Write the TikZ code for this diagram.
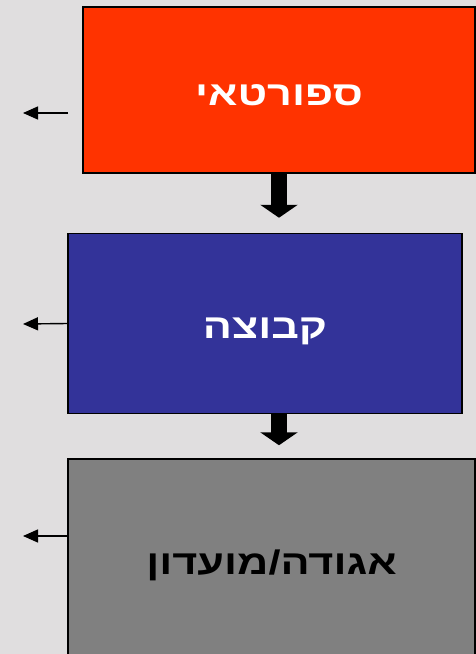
\documentclass[tikz,border=0pt]{standalone}
\usepackage{fontspec}
\setmainfont{Liberation Sans}
\newfontfamily\hebfont[Script=Hebrew, FakeStretch=1.27]{Liberation Sans}
\TeXXeTstate=1
\usetikzlibrary{arrows.meta, positioning, calc}
\definecolor{bggray}{RGB}{224,222,223}
\definecolor{sportred}{RGB}{255,51,0}
\definecolor{teamblue}{RGB}{51,51,153}
\definecolor{clubgray}{RGB}{128,128,128}
\tikzstyle{level} = [rectangle, draw=black, line width=1.5pt, text centered, text height=30pt, text depth=0pt, font=\hebfont\bfseries\fontsize{34}{40}\selectfont]
\tikzstyle{bigarrow} = [line width=16pt, -{Triangle[length=13pt,width=37pt]}]
\tikzstyle{sidearrow} = [line width=1.4pt, -{Triangle[length=15pt,width=13pt]}]

\begin{document}
\begin{tikzpicture}[x=1pt,y=-1pt]
\fill[bggray] (0,0) rectangle (476,654);
\useasboundingbox (0,0) rectangle (476,654);

\node (sport) [level, fill=sportred, text=white, minimum width=392pt, minimum height=166pt] at (279,90) {\beginR ספורטאי\endR};
\node (team) [level, fill=teamblue, text=white, minimum width=394pt, minimum height=180pt, below=59pt of sport, xshift=-14pt] {\beginR קבוצה\endR};
\node (club) [level, fill=clubgray, text=black, minimum width=407pt, minimum height=200pt, below=44pt of team, xshift=6.5pt] {\beginR אגודה/מועדון\endR};

\draw [bigarrow, shorten >=15pt] (sport.south) -- (sport.south |- team.north);
\draw [bigarrow, shorten >=13pt] (team.south -| sport.south) -- (sport.south |- club.north);

\coordinate (sportout) at (68,113);
\coordinate (sportend) at (23,113);
\coordinate (teamend) at (23,324);
\coordinate (clubout) at (68,536);
\coordinate (clubend) at (23,536);
\draw [sidearrow] (sportout) -- (sportend);
\draw [sidearrow] (team.west) -- (teamend);
\draw [sidearrow] (clubout) -- (clubend);
\end{tikzpicture}
\end{document}
